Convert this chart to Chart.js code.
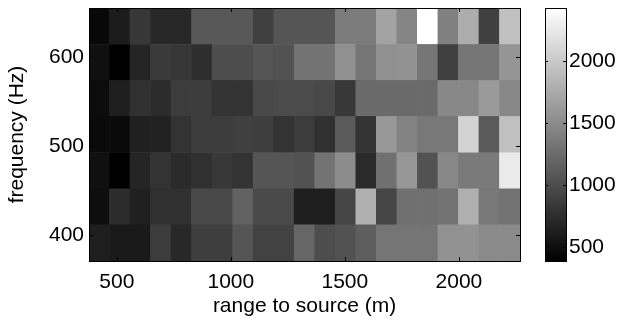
<!DOCTYPE html>
<html>
<head>
<meta charset="utf-8">
<script src="https://cdn.jsdelivr.net/npm/chart.js@4.4.1/dist/chart.umd.min.js"></script>
<style>
  html, body { margin: 0; padding: 0; background: #fff; }
  #wrap { position: relative; width: 626px; height: 323px; }
  #heat { position: absolute; left: 0; top: 0; }
  #cbar { position: absolute; left: 530px; top: 0; }
</style>
</head>
<body>
<div id="wrap">
  <canvas id="heat" width="540" height="323"></canvas>
  <canvas id="cbar" width="96" height="323"></canvas>
</div>
<script>
// range bins (m), cell centres
const ranges = [423, 513, 603, 693, 783, 873, 963, 1053, 1143, 1233, 1323,
                1413, 1503, 1593, 1683, 1773, 1863, 1953, 2043, 2133, 2223];
const rangeStep = 90;

// frequency bins (Hz), cell centres, bottom to top
const freqs = [391, 431.5, 472, 513, 553.5, 594, 635];
const freqStep = 40.7;

// level per cell, one row per frequency (bottom to top)
const f391 = [630, 598, 598, 870, 710, 886, 886, 1070, 918, 918, 1206, 1006, 1046, 1142, 1326, 1326, 1326, 1558, 1558, 1494, 1494];
const f431 = [502, 742, 646, 774, 774, 966, 966, 1174, 982, 982, 630, 630, 942, 1798, 942, 1286, 1286, 1302, 1798, 1350, 1302];
const f472 = [518, 390, 686, 798, 726, 774, 838, 798, 1070, 1070, 1046, 1310, 1510, 726, 1286, 1590, 1046, 1478, 1366, 1366, 2262];
const f513 = [470, 470, 646, 662, 798, 870, 870, 902, 886, 798, 870, 774, 1110, 798, 1606, 1438, 1350, 1350, 2078, 1110, 1926];
const f553 = [486, 630, 774, 742, 870, 870, 798, 798, 966, 990, 990, 966, 838, 1238, 1238, 1238, 1238, 1478, 1478, 1622, 1478];
const f594 = [518, 390, 686, 854, 822, 758, 1006, 1006, 1070, 1046, 1310, 1310, 1542, 1326, 1542, 1558, 1326, 902, 1326, 1326, 1582];
const f635 = [454, 614, 830, 710, 710, 1094, 1094, 1094, 902, 1070, 1070, 1070, 1374, 1374, 1694, 1454, 2430, 1414, 1774, 902, 1926];
const levels = [f391, f431, f472, f513, f553, f594, f635];

// tick labels
const xTicks = [500, 1000, 1500, 2000];
const yTicks = [400, 500, 600];
const cbTicks = [500, 1000, 1500, 2000];

// colour scale limits
const CMIN = 390;
const CMAX = 2430;

const FONT = "'Liberation Sans', Arial, sans-serif";

function gray(v) {
  let t = (v - CMIN) / (CMAX - CMIN);
  t = Math.max(0, Math.min(1, t));
  const g = Math.round(t * 255);
  return `rgb(${g},${g},${g})`;
}

// no extra room for labels hanging over the ends of an axis
function noEdgePad(s) {
  s.paddingTop = 0; s.paddingBottom = 0;
  s.paddingLeft = 0; s.paddingRight = 0;
}

// frame round the plot area plus small inward tick marks (matlab look)
const frameTicks = {
  id: "frameTicks",
  afterDatasetsDraw(chart, args, opts) {
    const { ctx, chartArea: a, scales } = chart;
    const len = opts.len || 4;
    ctx.save();
    ctx.strokeStyle = "#000";
    ctx.lineWidth = 1;
    ctx.beginPath();
    if (opts.x) {
      scales.x.ticks.forEach(t => {
        const px = Math.round(scales.x.getPixelForValue(t.value)) + 0.5;
        ctx.moveTo(px, a.bottom); ctx.lineTo(px, a.bottom - len);
        ctx.moveTo(px, a.top); ctx.lineTo(px, a.top + len);
      });
    }
    scales.y.ticks.forEach(t => {
      const py = Math.round(scales.y.getPixelForValue(t.value)) + 0.5;
      ctx.moveTo(a.left, py); ctx.lineTo(a.left + len, py);
      ctx.moveTo(a.right, py); ctx.lineTo(a.right - len, py);
    });
    ctx.stroke();
    ctx.strokeRect(Math.round(a.left) + 0.5, Math.round(a.top) + 0.5,
                   Math.round(a.right - a.left), Math.round(a.bottom - a.top));
    ctx.restore();
  }
};

// ===== heat map: one floating-bar dataset per frequency row =====
const heatSets = freqs.map((f, r) => ({
  data: ranges.map((x, c) => ({ x: x, y: [f - freqStep / 2, f + freqStep / 2], v: levels[r][c] })),
  backgroundColor: ctx => gray(ctx.raw ? ctx.raw.v : CMIN),
  borderWidth: 0,
  grouped: false,
  barPercentage: 1,
  categoryPercentage: 1
}));

new Chart(document.getElementById("heat"), {
  type: "bar",
  data: { datasets: heatSets },
  options: {
    responsive: false,
    animation: false,
    layout: { padding: { left: 0, right: 20, top: 8, bottom: 0 } },
    plugins: {
      legend: { display: false },
      tooltip: { enabled: false },
      frameTicks: { x: true, len: 4 }
    },
    scales: {
      x: {
        type: "linear",
        offset: false,
        min: ranges[0] - rangeStep / 2,
        max: ranges[ranges.length - 1] + rangeStep / 2,
        afterBuildTicks: s => { s.ticks = xTicks.map(v => ({ value: v })); },
        afterFit: s => { s.height = 62; noEdgePad(s); },
        grid: { display: false, drawTicks: false },
        border: { display: false },
        ticks: {
          color: "#000", font: { family: FONT, size: 21 }, padding: 9, maxRotation: 0,
          callback: v => String(v)
        },
        title: {
          display: true, text: "range to source (m)", color: "#000",
          font: { family: FONT, size: 21 }, padding: { top: 0, bottom: 4 }
        }
      },
      y: {
        type: "linear",
        beginAtZero: false,
        min: freqs[0] - freqStep / 2,
        max: freqs[freqs.length - 1] + freqStep / 2,
        afterBuildTicks: s => { s.ticks = yTicks.map(v => ({ value: v })); },
        afterFit: s => { s.width = 89; noEdgePad(s); },
        grid: { display: false, drawTicks: false },
        border: { display: false },
        ticks: { color: "#000", font: { family: FONT, size: 21 }, padding: 5, callback: v => String(v) },
        title: {
          display: true, text: "frequency (Hz)", color: "#000",
          font: { family: FONT, size: 21 }, padding: { top: 5, bottom: 0 }
        }
      }
    }
  },
  plugins: [frameTicks]
});

// ===== colour bar =====
new Chart(document.getElementById("cbar"), {
  type: "bar",
  data: {
    labels: ["level"],
    datasets: [{
      data: [[CMIN, CMAX]],
      backgroundColor: ctx => {
        const a = ctx.chart.chartArea;
        if (!a) return "#808080";
        const g = ctx.chart.ctx.createLinearGradient(0, a.bottom, 0, a.top);
        g.addColorStop(0, "#000");
        g.addColorStop(1, "#fff");
        return g;
      },
      borderWidth: 0,
      barPercentage: 1,
      categoryPercentage: 1
    }]
  },
  options: {
    responsive: false,
    animation: false,
    layout: { padding: { left: 15, right: 0, top: 8, bottom: 62 } },
    plugins: {
      legend: { display: false },
      tooltip: { enabled: false },
      frameTicks: { x: false, len: 3 }
    },
    scales: {
      x: { display: false },
      y: {
        position: "right",
        beginAtZero: false,
        min: CMIN,
        max: CMAX,
        afterBuildTicks: s => { s.ticks = cbTicks.map(v => ({ value: v })); },
        afterFit: s => { s.width = 60; noEdgePad(s); },
        grid: { display: false, drawTicks: false },
        border: { display: false },
        ticks: { color: "#000", font: { family: FONT, size: 21 }, padding: 3, callback: v => String(v) }
      }
    }
  },
  plugins: [frameTicks]
});
</script>
</body>
</html>
